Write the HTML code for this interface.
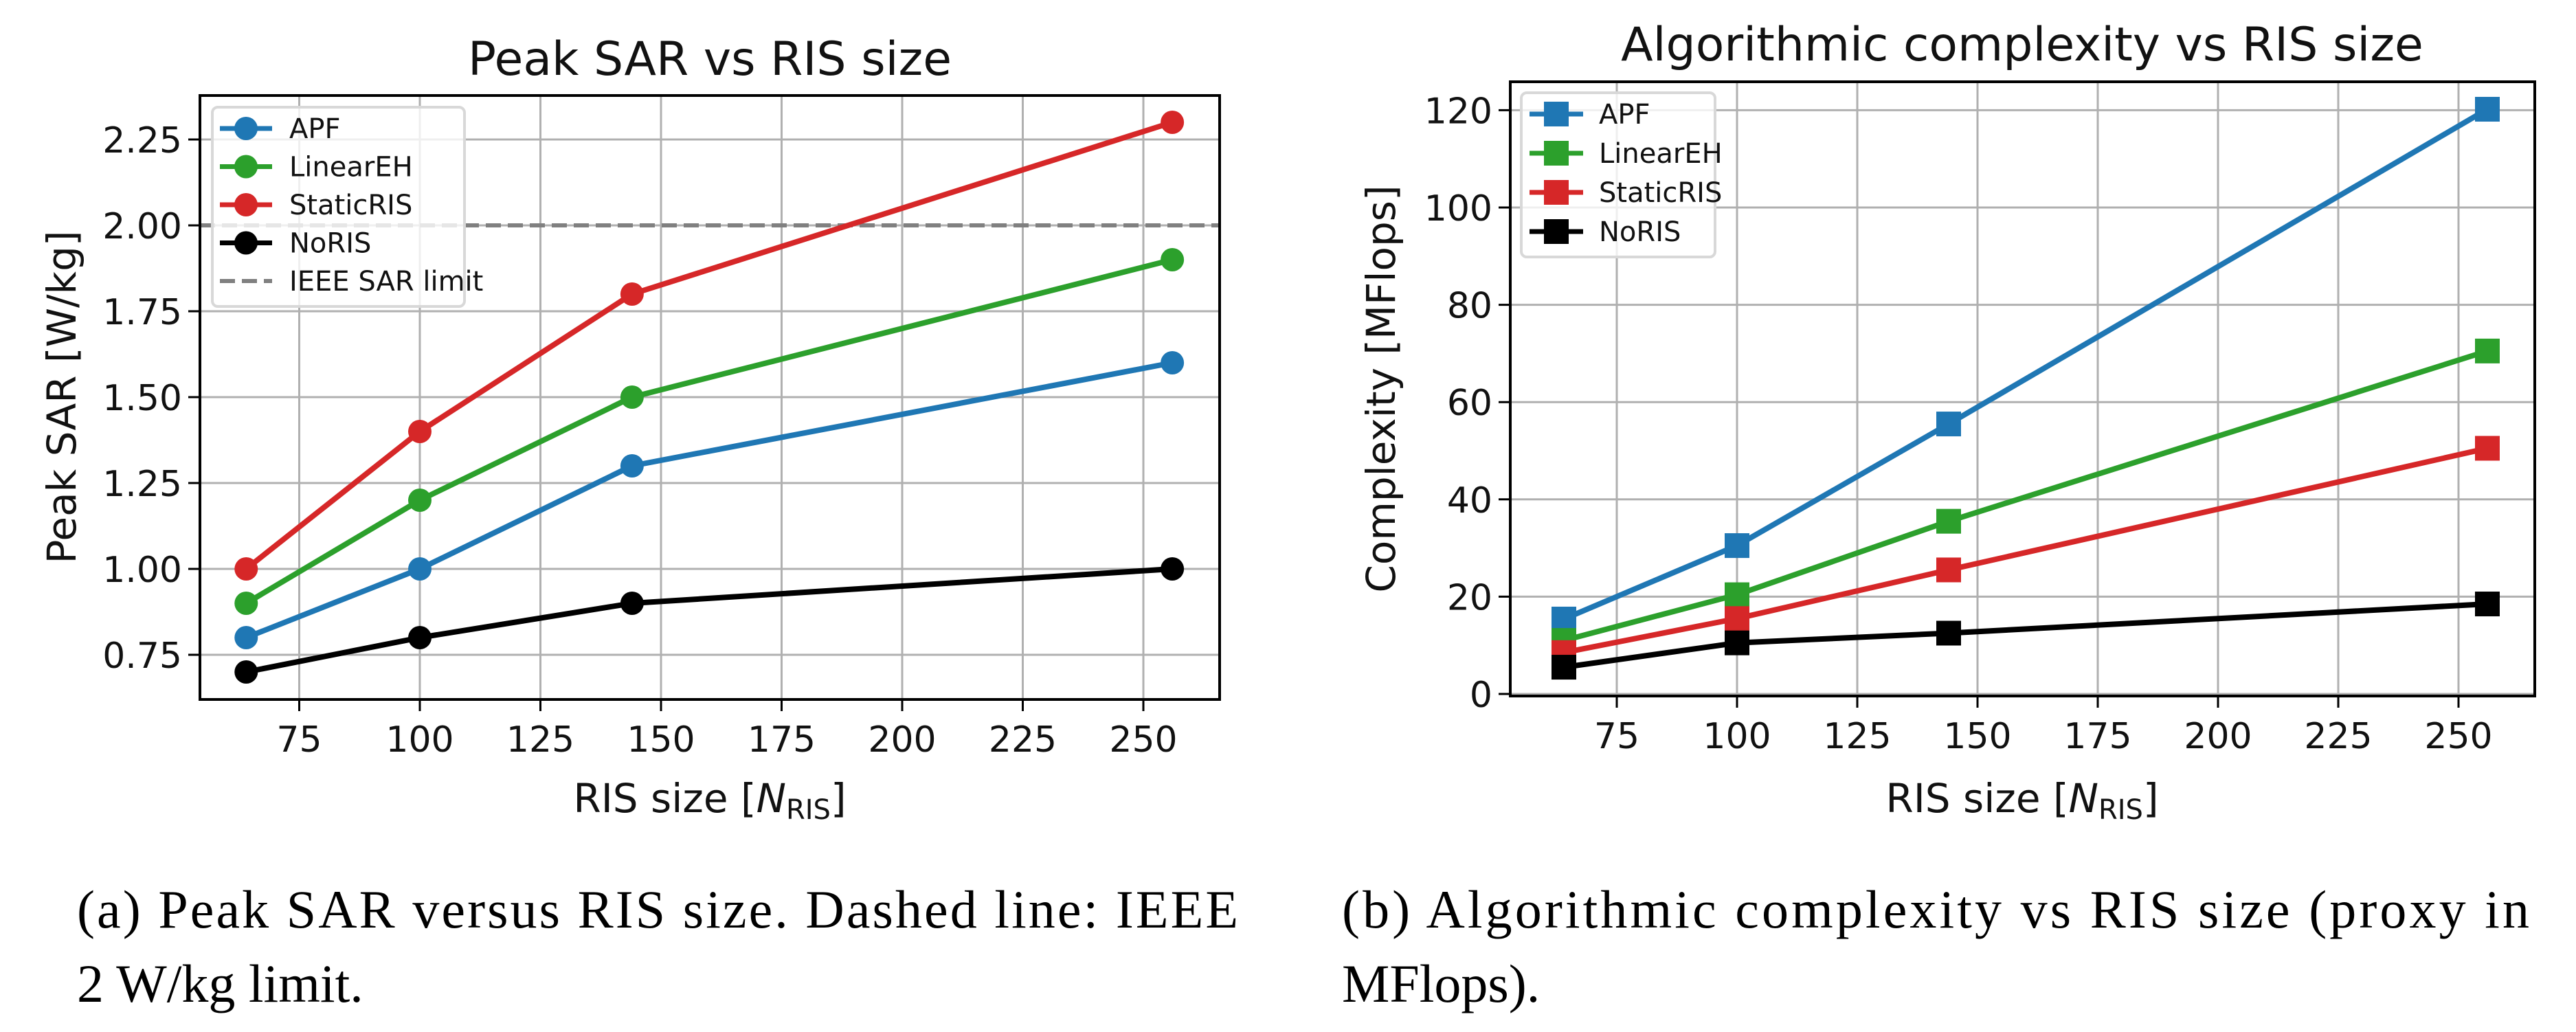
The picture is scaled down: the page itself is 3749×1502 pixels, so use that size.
<!DOCTYPE html>
<html><head><meta charset="utf-8">
<style>
html,body{margin:0;padding:0;background:#fff;}
svg{display:block;}
.tk{font-family:"DejaVu Sans","Liberation Sans",sans-serif;font-size:52px;fill:#111;}
.lg{font-family:"DejaVu Sans","Liberation Sans",sans-serif;font-size:40px;fill:#111;}
.ttl{font-family:"DejaVu Sans","Liberation Sans",sans-serif;font-size:68px;fill:#111;}
.al{font-family:"DejaVu Sans","Liberation Sans",sans-serif;font-size:58px;fill:#111;}
.cap{font-family:"Liberation Serif",serif;font-size:78px;fill:#000;}
</style></head>
<body>
<svg id="svg" width="3749" height="1502" viewBox="0 0 3749 1502" xmlns="http://www.w3.org/2000/svg">
<rect width="3749" height="1502" fill="#fff"/>
<text class="ttl" x="1033" y="109" text-anchor="middle">Peak SAR vs RIS size</text>
<text class="ttl" x="2943" y="88" text-anchor="middle">Algorithmic complexity vs RIS size</text>
<text class="al" x="0" y="0" transform="translate(110,578) rotate(-90)" text-anchor="middle">Peak SAR [W/kg]</text>
<text class="al" x="0" y="0" transform="translate(2030,566) rotate(-90)" text-anchor="middle">Complexity [MFlops]</text>
<text class="al" x="1033" y="1182" text-anchor="middle">RIS size [<tspan font-style="italic">N</tspan><tspan font-size="40" dy="10">RIS</tspan><tspan dy="-10">]</tspan></text>
<text class="al" x="2943" y="1182" text-anchor="middle">RIS size [<tspan font-style="italic">N</tspan><tspan font-size="40" dy="10">RIS</tspan><tspan dy="-10">]</tspan></text>
<text class="cap" x="112" y="1350" textLength="1690" lengthAdjust="spacing">(a) Peak SAR versus RIS size.  Dashed line: IEEE</text>
<text class="cap" x="112" y="1458">2 W/kg limit.</text>
<text class="cap" x="1953" y="1350" textLength="1728" lengthAdjust="spacing">(b) Algorithmic complexity vs RIS size (proxy in</text>
<text class="cap" x="1953" y="1458">MFlops).</text>
<g id="left"></g>
<g id="right"></g>
</svg>
<script>
const xCats = [64, 100, 144, 256];
const xTicks = [75, 100, 125, 150, 175, 200, 225, 250];
const seriesNames = ["APF", "LinearEH", "StaticRIS", "NoRIS"];
const seriesColors = ["#1f77b4", "#2ca02c", "#d62728", "#000000"];
const sarAPF = [0.8, 1.0, 1.3, 1.6];
const sarLinearEH = [0.9, 1.2, 1.5, 1.9];
const sarStaticRIS = [1.0, 1.4, 1.8, 2.3];
const sarNoRIS = [0.7, 0.8, 0.9, 1.0];
const sarLimit = 2.0;
const sarTicks = [0.75, 1.00, 1.25, 1.50, 1.75, 2.00, 2.25];
const cxAPF = [15.4, 30.5, 55.5, 120.2];
const cxLinearEH = [11, 20.4, 35.5, 70.5];
const cxStaticRIS = [8.5, 15.5, 25.5, 50.5];
const cxNoRIS = [5.5, 10.5, 12.5, 18.5];
const cxTicks = [0, 20, 40, 60, 80, 100, 120];

const NS = "http://www.w3.org/2000/svg";
function mk(parent, tag, attrs){const e=document.createElementNS(NS,tag);for(const k in attrs)e.setAttribute(k,attrs[k]);parent.appendChild(e);return e;}

function drawChart(g, cfg){
  const {L,R,T,B,xs,ys,yTicks,yFmt,series,marker,legend} = cfg;
  xTicks.forEach(t=>{
    const x=xs(t);
    const gl=mk(g,"line",{x1:x,x2:x,y1:T,y2:B,stroke:"#b0b0b0","stroke-width":3});
    
    
    const tk=mk(g,"line",{x1:x,x2:x,y1:B,y2:B+17,stroke:"#000","stroke-width":3});
    
    
    const tl=mk(g,"text",{x:x,y:B+76,"text-anchor":"middle",class:"tk"});
    tl.textContent=t;
    
    
  });
  yTicks.forEach(t=>{
    const y=ys(t);
    const gl=mk(g,"line",{x1:L,x2:R,y1:y,y2:y,stroke:"#b0b0b0","stroke-width":3});
    
    
    const tk=mk(g,"line",{x1:L-17,x2:L,y1:y,y2:y,stroke:"#000","stroke-width":3});
    
    
    const tl=mk(g,"text",{x:L-26,y:y+19,"text-anchor":"end",class:"tk"});
    tl.textContent=yFmt(t);
    
    
  });
  if(cfg.limit!==undefined){
    const ly=ys(cfg.limit);
    const lim=mk(g,"line",{x1:L,x2:R,y1:ly,y2:ly,stroke:"#808080","stroke-width":6,"stroke-dasharray":"22 10"});
    
    
  }
  series.forEach((vals,i)=>{
    const sg=mk(g,"g",{});
    
    
    const pts=vals.map((v,j)=>xs(xCats[j])+","+ys(v)).join(" ");
    const pl=mk(sg,"polyline",{points:pts,fill:"none",stroke:seriesColors[i],"stroke-width":8,"stroke-linejoin":"round"});
    
    
    vals.forEach((v,j)=>{
      let m;
      if(marker==="circle") m=mk(sg,"circle",{cx:xs(xCats[j]),cy:ys(v),r:17,fill:seriesColors[i]});
      else m=mk(sg,"rect",{x:xs(xCats[j])-18,y:ys(v)-18,width:36,height:36,fill:seriesColors[i]});
      
      
    });
  });
  const lg=mk(g,"g",{});
  
  
  const box=mk(lg,"rect",{x:legend.x,y:legend.y,width:legend.w,height:legend.h,rx:8,fill:"rgba(255,255,255,0.8)",stroke:"#d8d8d8","stroke-width":4});
  
  
  const items=seriesNames.slice();
  if(cfg.limit!==undefined) items.push("IEEE SAR limit");
  items.forEach((n,i)=>{
    const y=legend.rowY+i*legend.step;
    const eg=mk(lg,"g",{});
    
    
    if(i<4){
      mk(eg,"line",{x1:legend.lx1,x2:legend.lx2,y1:y,y2:y,stroke:seriesColors[i],"stroke-width":7});
      const mc=(legend.lx1+legend.lx2)/2;
      if(marker==="circle") mk(eg,"circle",{cx:mc,cy:y,r:17,fill:seriesColors[i]});
      else mk(eg,"rect",{x:mc-18,y:y-18,width:36,height:36,fill:seriesColors[i]});
    } else {
      mk(eg,"line",{x1:legend.lx1,x2:legend.lx2,y1:y,y2:y,stroke:"#808080","stroke-width":6,"stroke-dasharray":"22 10"});
    }
    const t=mk(eg,"text",{x:legend.tx,y:y+14,class:"lg"});
    t.textContent=n;
  });
  const fr=mk(g,"rect",{x:L,y:T,width:R-L,height:B-T,fill:"none",stroke:"#000","stroke-width":4});
  
  
}

(function(){
  const L=291,R=1775,T=139,B=1018;
  const xs=v=>611+(v-100)*7.02;
  const ys=v=>328-(v-2)*500;
  drawChart(document.getElementById("left"),{L,R,T,B,xs,ys,yTicks:sarTicks,yFmt:t=>t.toFixed(2),
    series:[sarAPF,sarLinearEH,sarStaticRIS,sarNoRIS],marker:"circle",limit:sarLimit,
    legend:{x:309,y:156,w:367,h:290,rowY:187,step:55.5,lx1:320,lx2:396,tx:421}});
})();
(function(){
  const L=2198,R=3689,T=119,B=1013;
  const xs=v=>2528+(v-100)*7.0;
  const ys=v=>1010-v*7.08;
  drawChart(document.getElementById("right"),{L,R,T,B,xs,ys,yTicks:cxTicks,yFmt:t=>String(t),
    series:[cxAPF,cxLinearEH,cxStaticRIS,cxNoRIS],marker:"square",
    legend:{x:2214,y:135,w:282,h:239,rowY:166,step:57,lx1:2226,lx2:2304,tx:2327}});
})();
</script>
</body></html>
